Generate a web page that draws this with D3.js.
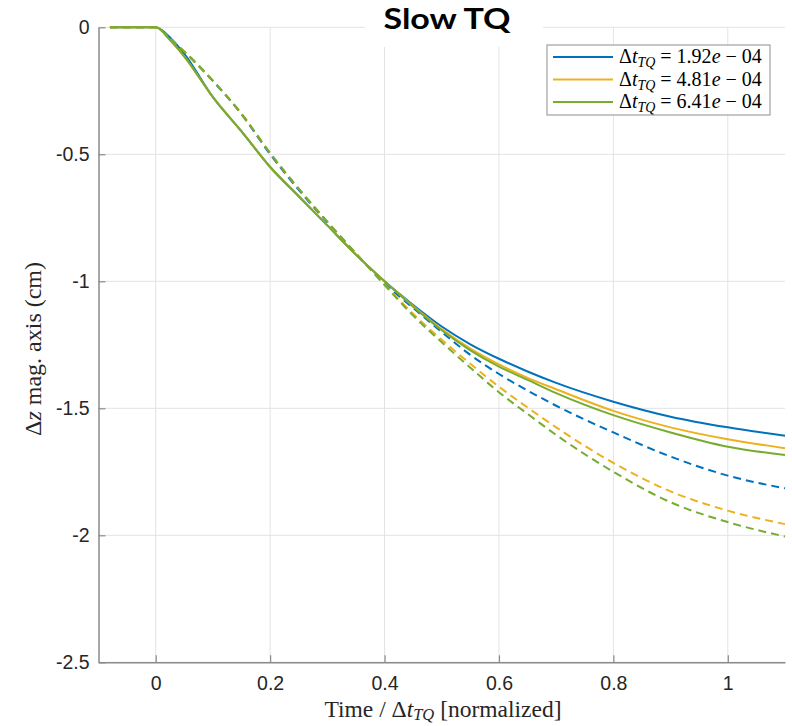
<!DOCTYPE html>
<html>
<head>
<meta charset="utf-8">
<script src="https://cdn.jsdelivr.net/npm/d3@7"></script>
<style>
  body { margin: 0; background: #fff; }
  svg { display: block; }
</style>
</head>
<body>
<svg id="chart" width="792" height="726"></svg>
<script>
// time grid (normalized), shared by all six curves
const time = [-0.08, 0, 0.025, 0.05, 0.1, 0.15, 0.2, 0.25, 0.3, 0.35, 0.4, 0.45, 0.5, 0.55, 0.6, 0.65, 0.7, 0.8, 0.9, 1.0, 1.1];

// solid curves
const solidBlue   = [0, 0, -0.04, -0.105, -0.275, -0.41, -0.55, -0.665, -0.78, -0.895, -1.0, -1.093, -1.178, -1.248, -1.305, -1.355, -1.40, -1.474, -1.533, -1.575, -1.608];
const solidOrange = [0, 0, -0.05, -0.115, -0.275, -0.41, -0.55, -0.665, -0.78, -0.895, -1.0, -1.097, -1.188, -1.265, -1.327, -1.38, -1.425, -1.51, -1.575, -1.622, -1.657];
const solidGreen  = [0, 0, -0.05, -0.115, -0.275, -0.41, -0.55, -0.665, -0.78, -0.895, -1.0, -1.10, -1.193, -1.272, -1.336, -1.388, -1.44, -1.527, -1.595, -1.651, -1.684];

// dashed curves
const dashBlue   = [0, 0, -0.045, -0.097, -0.212, -0.343, -0.50, -0.64, -0.768, -0.892, -1.008, -1.105, -1.20, -1.29, -1.365, -1.43, -1.49, -1.595, -1.69, -1.765, -1.815];
const dashOrange = [0, 0, -0.045, -0.095, -0.21, -0.34, -0.495, -0.635, -0.765, -0.89, -1.012, -1.128, -1.23, -1.325, -1.415, -1.497, -1.575, -1.715, -1.827, -1.903, -1.956];
const dashGreen  = [0, 0, -0.045, -0.095, -0.21, -0.34, -0.495, -0.635, -0.765, -0.89, -1.015, -1.135, -1.24, -1.34, -1.437, -1.522, -1.605, -1.75, -1.87, -1.948, -2.005];

const legendValues = ["1.92", "4.81", "6.41"];
const xTicks = [0, 0.2, 0.4, 0.6, 0.8, 1];
const xTickLabels = ["0", "0.2", "0.4", "0.6", "0.8", "1"];
const yTicks = [0, -0.5, -1, -1.5, -2, -2.5];
const yTickLabels = ["0", "-0.5", "-1", "-1.5", "-2", "-2.5"];

const colors = ["#0072BD", "#EDB120", "#77AC30"];

const svg = d3.select("#chart");
const plotLeft = 98.5, plotRight = 785, plotTop = 27.3, plotBottom = 662.3;

const x = d3.scaleLinear().domain([-0.1, 1.1]).range([plotLeft, plotRight]);
const y = d3.scaleLinear().domain([-2.5, 0]).range([plotBottom, plotTop]);

// grid lines
const grid = svg.append("g").attr("stroke", "#e3e3e3").attr("stroke-width", 1);
grid.selectAll(".gx").data(xTicks).join("line")
    .attr("class", "gx")
    .attr("x1", d => x(d)).attr("x2", d => x(d))
    .attr("y1", plotTop).attr("y2", plotBottom);
grid.selectAll(".gy").data(yTicks).join("line")
    .attr("class", "gy")
    .attr("x1", plotLeft).attr("x2", plotRight)
    .attr("y1", d => y(d)).attr("y2", d => y(d));

// axes, ticks pointing inward like matlab
const xAxis = d3.axisBottom(x).tickValues(xTicks)
    .tickFormat((d, i) => xTickLabels[i]).tickSize(-7).tickPadding(14).tickSizeOuter(0);
const yAxis = d3.axisLeft(y).tickValues(yTicks)
    .tickFormat((d, i) => yTickLabels[i]).tickSize(-7).tickPadding(9).tickSizeOuter(0);

const gx = svg.append("g").attr("transform", `translate(0,${plotBottom})`).call(xAxis);
const gy = svg.append("g").attr("transform", `translate(${plotLeft},0)`).call(yAxis);
[gx, gy].forEach(g => {
    g.select(".domain").attr("stroke", "#8a8a8a").attr("stroke-width", 1.5);
    g.selectAll(".tick line").attr("stroke", "#8a8a8a").attr("stroke-width", 1.2);
    g.selectAll(".tick text")
        .attr("fill", "#262626")
        .style("font-family", "'Liberation Sans', Arial, sans-serif")
        .style("font-size", "19.5px");
});

// curves
const line = d3.line()
    .x((d, i) => x(time[i]))
    .y(d => y(d))
    .curve(d3.curveMonotoneX);

const series = [
    { vals: solidBlue, color: colors[0], dash: null },
    { vals: dashBlue, color: colors[0], dash: "8,5" },
    { vals: solidOrange, color: colors[1], dash: null },
    { vals: dashOrange, color: colors[1], dash: "8,5" },
    { vals: solidGreen, color: colors[2], dash: null },
    { vals: dashGreen, color: colors[2], dash: "8,5" }
];

svg.append("g").selectAll("path").data(series).join("path")
    .attr("d", d => line(d.vals))
    .attr("fill", "none")
    .attr("stroke", d => d.color)
    .attr("stroke-width", 2)
    .attr("stroke-dasharray", d => d.dash);

// axis labels (latex-ish serif)
const serif = "'Liberation Serif', 'DejaVu Serif', serif";
const xl = svg.append("text")
    .attr("x", 443).attr("y", 717)
    .attr("text-anchor", "middle")
    .style("font-family", serif).style("font-size", "23.5px").attr("fill", "#262626");
xl.append("tspan").text("Time / Δ");
xl.append("tspan").attr("font-style", "italic").text("t");
xl.append("tspan").attr("font-style", "italic").attr("font-size", "16.5px").attr("dy", 3).text("TQ");
xl.append("tspan").attr("dy", -3).text(" [normalized]");

const yl = svg.append("text")
    .attr("transform", "translate(41,349) rotate(-90)")
    .attr("text-anchor", "middle")
    .style("font-family", serif).style("font-size", "24px").attr("fill", "#262626");
yl.append("tspan").text("Δ");
yl.append("tspan").attr("font-style", "italic").text("z");
yl.append("tspan").text(" mag. axis (cm)");

// title sits on a white patch over the top grid line
svg.append("rect").attr("x", 365).attr("y", 0).attr("width", 178).attr("height", 47).attr("fill", "#fff");
svg.append("text")
    .attr("x", 447).attr("y", 29)
    .attr("text-anchor", "middle")
    .attr("textLength", 127).attr("lengthAdjust", "spacingAndGlyphs")
    .style("font-family", "Lato, 'Open Sans', sans-serif")
    .style("font-weight", "bold").style("font-size", "29px")
    .attr("fill", "#000")
    .text("Slow TQ");

// legend
const lg = svg.append("g");
lg.append("rect").attr("x", 547).attr("y", 45).attr("width", 223).attr("height", 70)
    .attr("fill", "#fff").attr("stroke", "#a0a0a0").attr("stroke-width", 1.2);
const rows = lg.selectAll(".row").data(legendValues).join("g")
    .attr("class", "row")
    .attr("transform", (d, i) => `translate(0,${57 + i * 22.5})`);
rows.append("line").attr("x1", 553).attr("x2", 613)
    .attr("stroke", (d, i) => colors[i]).attr("stroke-width", 2);
const lt = rows.append("text").attr("x", 619).attr("y", 6)
    .style("font-family", serif).style("font-size", "20px").attr("fill", "#000");
lt.append("tspan").text("Δ");
lt.append("tspan").attr("font-style", "italic").text("t");
lt.append("tspan").attr("font-style", "italic").attr("font-size", "14px").attr("dy", 4).text("TQ");
lt.append("tspan").attr("dy", -4).text(d => " = " + d);
lt.append("tspan").attr("font-style", "italic").text("e");
lt.append("tspan").text(" − 04");
</script>
</body>
</html>
